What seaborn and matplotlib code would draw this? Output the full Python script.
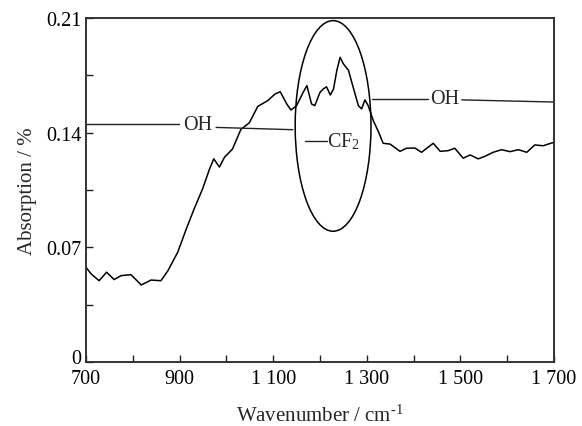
import matplotlib
matplotlib.use("Agg")
import matplotlib.pyplot as plt
import matplotlib.transforms as mtransforms
from matplotlib.patches import Ellipse
from matplotlib.ticker import FixedLocator, MultipleLocator
import seaborn as sns
import pandas as pd

wavenumber = [700, 711, 728, 744, 760, 775, 796, 818, 839, 860, 875, 896, 914, 931,
              949, 964, 973, 985, 996, 1013, 1031, 1049, 1067, 1088, 1104, 1115, 1129,
              1138, 1150, 1164, 1172, 1182, 1189, 1200, 1207, 1214, 1222, 1229, 1236,
              1243, 1250, 1261, 1268, 1275, 1282, 1289, 1296, 1303, 1314, 1325, 1335,
              1350, 1371, 1385, 1403, 1417, 1442, 1457, 1474, 1488, 1506, 1521, 1538,
              1553, 1570, 1588, 1606, 1624, 1642, 1659, 1677, 1695, 1700]
absorption = [0.0578, 0.0537, 0.0496, 0.0548, 0.0503, 0.0527, 0.0533, 0.0470, 0.0500,
              0.0496, 0.0557, 0.0670, 0.0810, 0.0934, 0.1056, 0.1178, 0.1240, 0.1190,
              0.1250, 0.1300, 0.1420, 0.1460, 0.1560, 0.1595, 0.1636, 0.1650, 0.1575,
              0.1538, 0.1565, 0.1646, 0.1687, 0.1575, 0.1565, 0.1646, 0.1667, 0.1680,
              0.1630, 0.1667, 0.1780, 0.1860, 0.1820, 0.1780, 0.1707, 0.1636, 0.1565,
              0.1545, 0.1600, 0.1565, 0.1473, 0.1405, 0.1335, 0.1330, 0.1286, 0.1305,
              0.1306, 0.1280, 0.1335, 0.1286, 0.1290, 0.1305, 0.1244, 0.1264, 0.1240,
              0.1256, 0.1280, 0.1296, 0.1284, 0.1296, 0.1280, 0.1325, 0.1320, 0.1337,
              0.1340]

x_ticks = [700, 900, 1100, 1300, 1500, 1700]
x_tick_labels = ["700", "900", "1 100", "1 300", "1 500", "1 700"]
y_ticks = [0, 0.07, 0.14, 0.21]
y_tick_labels = ["0", "0.07", "0.14", "0.21"]

# annotation geometry (data units)
oh_left_line1 = ([700, 899], [0.1453, 0.1453])
oh_left_line2 = ([978, 1142], [0.1432, 0.1418])
oh_left_text = (939, 0.1450)
cf2_line = ([1168, 1214], [0.1350, 0.1350])
cf2_text = (1216, 0.1350)
oh_right_line1 = ([1311, 1431], [0.1606, 0.1606])
oh_right_line2 = ([1503, 1700], [0.1600, 0.1587])
oh_right_text = (1467, 0.1606)
ellipse_center = (1228, 0.1441)
ellipse_width = 162
ellipse_height = 0.1286

sns.set_theme(style="ticks")
plt.rcParams["font.family"] = ["Liberation Serif", "DejaVu Serif"]
plt.rcParams["mathtext.fontset"] = "stix"

df = pd.DataFrame({"wn": wavenumber, "abs": absorption})

fig = plt.figure(figsize=(5.82, 4.27), dpi=100)
ax = fig.add_axes([0.1478, 0.150, 0.804, 0.8055])

sns.lineplot(data=df, x="wn", y="abs", ax=ax, color="black", linewidth=1.1)

lc = "#222222"
ax.plot(*oh_left_line1, color=lc, lw=1.0)
ax.plot(*oh_left_line2, color=lc, lw=1.0)
ax.plot(*cf2_line, color=lc, lw=1.0)
ax.plot(*oh_right_line1, color=lc, lw=1.0)
ax.plot(*oh_right_line2, color=lc, lw=1.0)
ax.text(*oh_left_text, "OH", ha="center", va="center", fontsize=14.5)
ax.text(*oh_right_text, "OH", ha="center", va="center", fontsize=14.5)
ax.text(*cf2_text, r"CF$_{\mathregular{2}}$", ha="left", va="center", fontsize=14.5)
ax.add_patch(Ellipse(ellipse_center, ellipse_width, ellipse_height,
                     fill=False, edgecolor="black", lw=1.1))

ax.set_xlim(700, 1700)
ax.set_ylim(0, 0.21)
ax.xaxis.set_major_locator(FixedLocator(x_ticks))
ax.set_xticklabels(x_tick_labels)
ax.yaxis.set_major_locator(FixedLocator(y_ticks))
ax.set_yticklabels(y_tick_labels)
ax.xaxis.set_minor_locator(MultipleLocator(100))
ax.yaxis.set_minor_locator(MultipleLocator(0.035))
ax.tick_params(axis="both", which="both", direction="in", length=5, width=1.0,
               colors="#222222", labelsize=14.5, labelcolor="black",
               top=False, right=False)
ax.tick_params(axis="x", pad=5)
for s in ax.spines.values():
    s.set_linewidth(1.4)
    s.set_color("#333333")

# raise the "0" label slightly so it clears the "700" label
zero_lbl = ax.yaxis.get_major_ticks()[0].label1
zero_lbl.set_transform(zero_lbl.get_transform() +
                       mtransforms.ScaledTranslation(0, 4 / 72, fig.dpi_scale_trans))

ax.set_xlabel("Wavenumber / cm$^{\\mathregular{\u20101}}$", fontsize=15, labelpad=12)
ax.set_ylabel("Absorption / %", fontsize=15, labelpad=6)

fig.savefig("out.png", dpi=100, facecolor="white")
